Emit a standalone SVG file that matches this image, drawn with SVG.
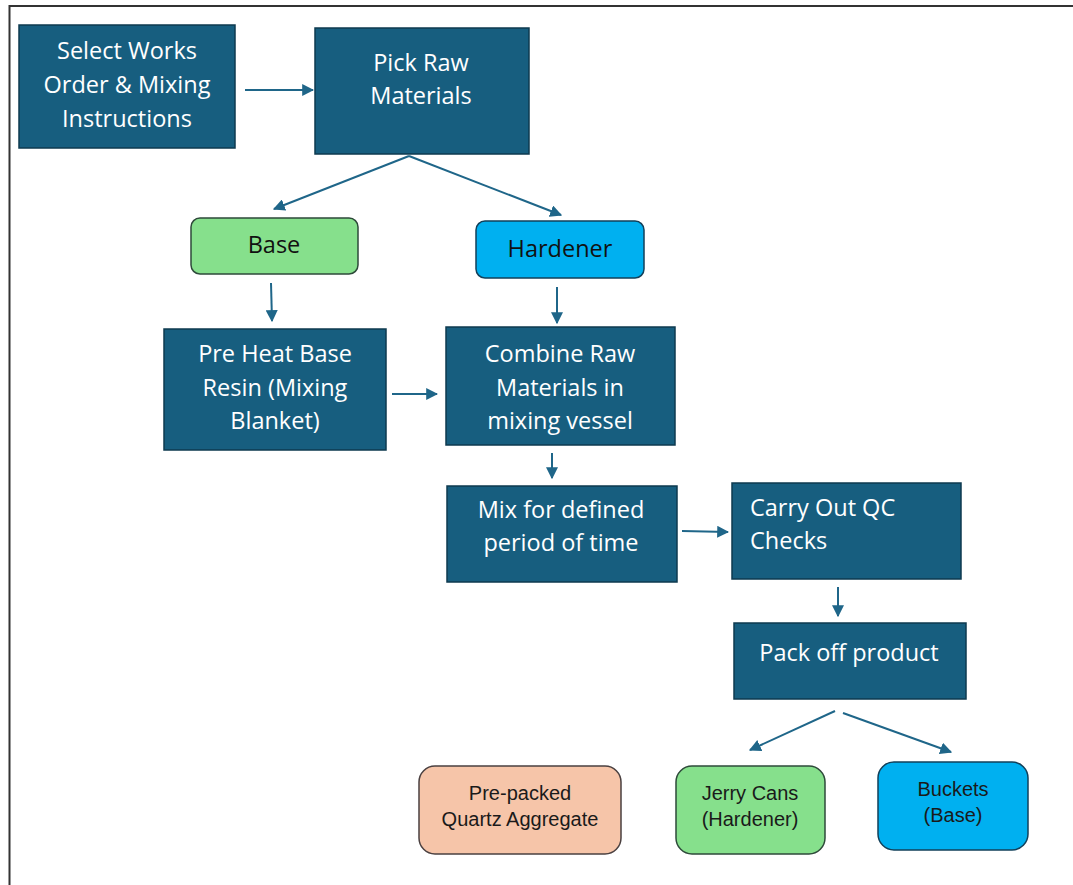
<svg xmlns="http://www.w3.org/2000/svg" width="1073" height="885" viewBox="0 0 1073 885">
<defs>
<style>
.proc{fill:#175e7f;stroke:#0e3a4f;stroke-width:1.5}
.t{font-family:"Open Sans","Noto Sans",sans-serif;font-size:23.5px;fill:#ffffff;text-anchor:middle}
.tl{text-anchor:start}
.tb{font-family:"Open Sans","Noto Sans",sans-serif;font-size:23.5px;fill:#111111;text-anchor:middle}
.ts{font-family:"Liberation Sans",Arial,sans-serif;font-size:20px;fill:#1a1a1a;text-anchor:middle}
.green{fill:#86e08c;stroke:#2e4a3a;stroke-width:1.5}
.blue{fill:#00b0f0;stroke:#12405a;stroke-width:1.5}
.peach{fill:#f6c5a9;stroke:#4a4040;stroke-width:1.5}
.c{stroke:#1f6689;stroke-width:2;fill:none;marker-end:url(#ah)}
</style>
<marker id="ah" viewBox="0 0 10 10" refX="9" refY="5" markerWidth="6" markerHeight="6" orient="auto" markerUnits="strokeWidth">
<path d="M0,0 L10,5 L0,10 z" fill="#1f6689"/>
</marker>
</defs>
<rect x="0" y="0" width="1073" height="885" fill="#ffffff"/>
<path d="M9.5,885 L9.5,6 L1073,6" fill="none" stroke="#333333" stroke-width="2"/>

<g id="connectors">
<line class="c" x1="245" y1="90" x2="313" y2="90"/>
<line class="c" x1="409" y1="156" x2="274" y2="209"/>
<line class="c" x1="409" y1="156" x2="561" y2="215"/>
<line class="c" x1="271" y1="283" x2="272" y2="321"/>
<line class="c" x1="557" y1="287" x2="557" y2="323"/>
<line class="c" x1="392" y1="394" x2="437" y2="394"/>
<line class="c" x1="552" y1="453" x2="552" y2="478"/>
<line class="c" x1="682" y1="531" x2="728" y2="532"/>
<line class="c" x1="838" y1="587" x2="838" y2="616"/>
<line class="c" x1="835" y1="711" x2="750" y2="750"/>
<line class="c" x1="843" y1="713" x2="951" y2="752"/>
</g>

<g id="select-works">
<rect class="proc" x="19" y="25" width="216" height="123"/>
<text class="t" x="127" y="59">Select Works</text>
<text class="t" x="127" y="93">Order &amp; Mixing</text>
<text class="t" x="127" y="127">Instructions</text>
</g>
<g id="pick-raw">
<rect class="proc" x="315" y="28" width="214" height="126"/>
<text class="t" x="421" y="71">Pick Raw</text>
<text class="t" x="421" y="104">Materials</text>
</g>
<g id="base">
<rect class="green" x="191" y="218" width="167" height="56" rx="9"/>
<text class="tb" x="274" y="253">Base</text>
</g>
<g id="hardener">
<rect class="blue" x="476" y="221" width="168" height="57" rx="9"/>
<text class="tb" x="560" y="257">Hardener</text>
</g>
<g id="pre-heat">
<rect class="proc" x="164" y="329" width="222" height="121"/>
<text class="t" x="275" y="362">Pre Heat Base</text>
<text class="t" x="275" y="396">Resin (Mixing</text>
<text class="t" x="275" y="429">Blanket)</text>
</g>
<g id="combine">
<rect class="proc" x="446" y="327" width="229" height="118"/>
<text class="t" x="560" y="362">Combine Raw</text>
<text class="t" x="560" y="396">Materials in</text>
<text class="t" x="560" y="429">mixing vessel</text>
</g>
<g id="mix">
<rect class="proc" x="447" y="486" width="230" height="96"/>
<text class="t" x="561" y="518">Mix for defined</text>
<text class="t" x="561" y="551">period of time</text>
</g>
<g id="qc">
<rect class="proc" x="732" y="483" width="229" height="96"/>
<text class="t tl" x="750" y="516">Carry Out QC</text>
<text class="t tl" x="750" y="549">Checks</text>
</g>
<g id="pack-off">
<rect class="proc" x="734" y="623" width="232" height="76"/>
<text class="t" x="849" y="661">Pack off product</text>
</g>
<g id="pre-packed">
<rect class="peach" x="419" y="766" width="202" height="88" rx="16"/>
<text class="ts" x="520" y="800">Pre-packed</text>
<text class="ts" x="520" y="826">Quartz Aggregate</text>
</g>
<g id="jerry-cans">
<rect class="green" x="676" y="766" width="149" height="88" rx="16"/>
<text class="ts" x="750" y="800">Jerry Cans</text>
<text class="ts" x="750" y="826">(Hardener)</text>
</g>
<g id="buckets">
<rect class="blue" x="878" y="762" width="150" height="88" rx="16"/>
<text class="ts" x="953" y="796">Buckets</text>
<text class="ts" x="953" y="822">(Base)</text>
</g>
</svg>
